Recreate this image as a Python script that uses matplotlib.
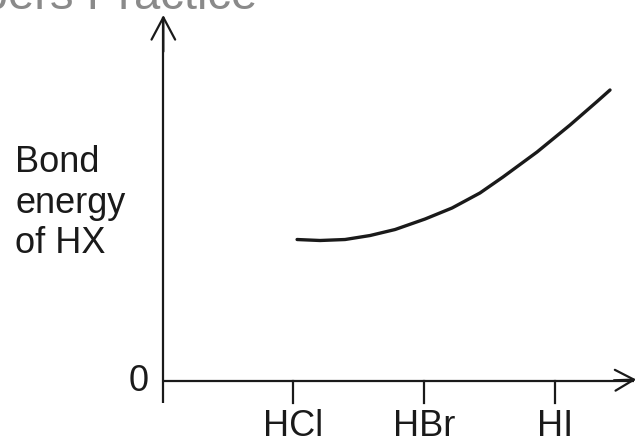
import matplotlib
matplotlib.use("Agg")
import matplotlib.pyplot as plt

plt.rcParams['font.family'] = ['Liberation Sans', 'DejaVu Sans']

# Data
categories = ["HCl", "HBr", "HI"]
curve_x = [0.031, 0.206, 0.397, 0.588, 0.779, 1.008, 1.214, 1.427, 1.603, 1.863, 2.115, 2.321, 2.420]
curve_y = [38.66, 38.39, 38.66, 39.75, 41.39, 44.26, 47.27, 51.37, 55.74, 62.57, 69.95, 76.36, 79.51]
ylabel_text = "Bond\nenergy\nof HX"
zero_label = "0"
watermark = "Papers Practice"

ink = "#1a1a1a"

fig = plt.figure(figsize=(6.37, 4.44), dpi=100)
ax = fig.add_axes([0, 0, 1, 1])
ax.set_xlim(-2.237, 2.626)
ax.set_ylim(-17.21, 104.1)
ax.axis("off")

x0 = -0.99   # y-axis position in data units
tick_low = -6.0

# axes with arrows
ax.plot([x0, x0], [tick_low, 99.5], color=ink, lw=1.6, solid_capstyle="butt")
ax.plot([x0, 2.6], [0, 0], color=ink, lw=1.6, solid_capstyle="butt")
ax.annotate("", xy=(x0, 100.0), xytext=(x0, 90),
            arrowprops=dict(arrowstyle="->,head_length=1.6,head_width=0.85",
                            color=ink, lw=1.6, shrinkA=0, shrinkB=0))
ax.annotate("", xy=(2.62, 0.4), xytext=(2.45, 0.2),
            arrowprops=dict(arrowstyle="->,head_length=1.35,head_width=0.75",
                            color=ink, lw=1.6, shrinkA=0, shrinkB=0))

# ticks and labels
for i, c in enumerate(categories):
    ax.plot([i, i], [0, tick_low], color=ink, lw=1.6)
    ax.text(i, -12.3, c, ha="center", va="center", fontsize=26, color=ink)

ax.text(-1.105, 0, zero_label, ha="right", va="center", fontsize=26, color=ink)

# y label
ax.text(-2.122, 48.6, ylabel_text, ha="left", va="center", fontsize=26,
        color=ink, linespacing=1.2)

# curve
ax.plot(curve_x, curve_y, color=ink, lw=2.4, solid_capstyle="round",
        solid_joinstyle="round")

# watermark (cut off at top, as in the reference)
ax.text(-0.275, 101.7, watermark, ha="right", va="baseline", fontsize=34,
        color="#8a8a8a", clip_on=False)

fig.savefig("out.png", dpi=100)
